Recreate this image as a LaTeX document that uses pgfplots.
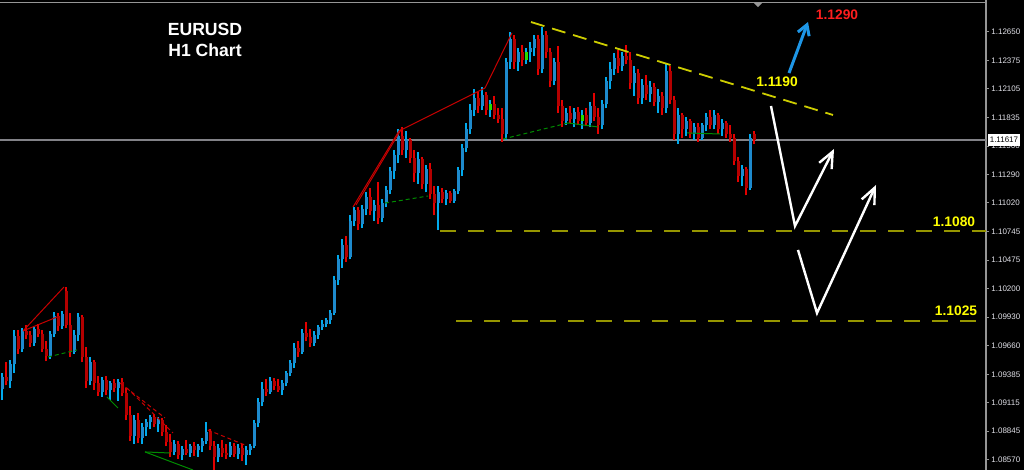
\documentclass[border=0pt]{standalone}
\usepackage{pgfplots}
\pgfplotsset{compat=1.18}
\usepackage{pgfplotstable}
\usepackage{fontspec}
\setmainfont{Liberation Sans}
\usetikzlibrary{arrows.meta}

\definecolor{upbody}{RGB}{30,138,205}
\definecolor{upwick}{RGB}{0,170,238}
\definecolor{dnbody}{RGB}{180,0,0}
\definecolor{dnwick}{RGB}{228,0,0}
\definecolor{frame}{RGB}{150,150,150}
\definecolor{pline}{RGB}{130,130,135}
\definecolor{trendy}{RGB}{205,205,0}
\definecolor{levely}{RGB}{150,150,0}
\definecolor{labely}{RGB}{255,255,0}
\definecolor{labelr}{RGB}{255,30,30}
\definecolor{arrowb}{RGB}{30,150,230}
\definecolor{zzred}{RGB}{200,0,0}
\definecolor{zzgreen}{RGB}{0,140,0}
\definecolor{tickt}{RGB}{225,225,232}
\definecolor{gbody}{RGB}{40,220,0}

\pgfplotstableread{
x o h l c
2 1.0925 1.0940 1.0914 1.0936
10 1.0932 1.0952 1.0926 1.0948
14 1.0948 1.0981 1.0940 1.0975
22 1.0963 1.0983 1.0960 1.0980
34 1.0968 1.0984 1.0966 1.0982
50 1.0956 1.0980 1.0953 1.0977
54 1.0977 1.0998 1.0974 1.0994
62 1.0985 1.0999 1.0982 1.0996
74 1.0960 1.0981 1.0958 1.0976
78 1.0976 1.0997 1.0970 1.0993
90 1.0932 1.0955 1.0928 1.0950
102 1.0922 1.0936 1.0917 1.0933
110 1.0924 1.0932 1.0914 1.0930
118 1.0926 1.0934 1.0913 1.0931
134 1.0880 1.0900 1.0872 1.0895
142 1.0878 1.0892 1.0872 1.0888
146 1.0888 1.0896 1.0880 1.0893
150 1.0893 1.0900 1.0886 1.0898
158 1.0891 1.0898 1.0884 1.0895
174 1.0865 1.0876 1.0862 1.0872
182 1.0862 1.0870 1.0857 1.0867
190 1.0864 1.0872 1.0860 1.0870
198 1.0866 1.0872 1.0860 1.0870
202 1.0870 1.0878 1.0865 1.0875
206 1.0875 1.0893 1.0872 1.0884
218 1.0860 1.0872 1.0855 1.0868
230 1.0862 1.0874 1.0860 1.0870
238 1.0863 1.0872 1.0858 1.0868
246 1.0862 1.0870 1.0852 1.0866
250 1.0866 1.0872 1.0862 1.0870
254 1.0870 1.0895 1.0868 1.0892
258 1.0892 1.0916 1.0888 1.0912
262 1.0912 1.0931 1.0908 1.0925
270 1.0922 1.0936 1.0920 1.0932
282 1.0924 1.0933 1.0919 1.0930
286 1.0930 1.0942 1.0927 1.0940
290 1.0940 1.0952 1.0937 1.0949
294 1.0949 1.0968 1.0945 1.0964
302 1.0960 1.0982 1.0958 1.0978
314 1.0968 1.0980 1.0966 1.0976
318 1.0976 1.0986 1.0972 1.0984
322 1.0984 1.0990 1.0981 1.0987
326 1.0987 1.0992 1.0984 1.0990
330 1.0990 1.1000 1.0987 1.0997
334 1.0997 1.1032 1.0995 1.1028
338 1.1028 1.1052 1.1024 1.1048
342 1.1048 1.1068 1.1040 1.1062
350 1.1050 1.1090 1.1048 1.1085
354 1.1085 1.1098 1.1080 1.1095
362 1.1082 1.1100 1.1078 1.1096
366 1.1096 1.1112 1.1090 1.1108
374 1.1094 1.1105 1.1085 1.1100
382 1.1088 1.1106 1.1084 1.1102
386 1.1102 1.1118 1.1098 1.1114
390 1.1114 1.1136 1.1110 1.1132
394 1.1132 1.1152 1.1125 1.1148
398 1.1148 1.1172 1.1140 1.1166
406 1.1152 1.1170 1.1145 1.1162
418 1.1130 1.1150 1.1120 1.1144
426 1.1120 1.1138 1.1112 1.1134
438 1.1102 1.1118 1.1076 1.1112
446 1.1106 1.1114 1.1100 1.1111
454 1.1104 1.1115 1.1102 1.1113
458 1.1113 1.1136 1.1110 1.1133
462 1.1133 1.1158 1.1128 1.1154
466 1.1154 1.1178 1.1150 1.1172
470 1.1172 1.1196 1.1168 1.1190
474 1.1190 1.1210 1.1185 1.1202
482 1.1194 1.1212 1.1190 1.1205
490 1.1190 1.1200 1.1184 1.1196
506 1.1168 1.1240 1.1162 1.1236
510 1.1236 1.1265 1.1230 1.1258
518 1.1236 1.1250 1.1228 1.1246
526 1.1238 1.1250 1.1234 1.1246
530 1.1246 1.1255 1.1236 1.1250
534 1.1250 1.1262 1.1242 1.1258
542 1.1230 1.1270 1.1226 1.1262
554 1.1218 1.1240 1.1214 1.1236
566 1.1180 1.1192 1.1176 1.1188
574 1.1182 1.1192 1.1174 1.1189
582 1.1180 1.1190 1.1172 1.1186
590 1.1178 1.1198 1.1174 1.1194
602 1.1176 1.1200 1.1172 1.1196
606 1.1196 1.1222 1.1192 1.1218
610 1.1218 1.1236 1.1210 1.1230
614 1.1230 1.1245 1.1224 1.1240
622 1.1232 1.1246 1.1228 1.1242
634 1.1216 1.1232 1.1204 1.1226
642 1.1202 1.1220 1.1196 1.1214
650 1.1206 1.1218 1.1198 1.1212
658 1.1198 1.1210 1.1188 1.1204
666 1.1192 1.1234 1.1188 1.1228
678 1.1168 1.1192 1.1158 1.1186
686 1.1172 1.1184 1.1166 1.1180
694 1.1168 1.1178 1.1162 1.1174
702 1.1164 1.1178 1.1162 1.1176
706 1.1176 1.1188 1.1170 1.1184
714 1.1176 1.1190 1.1172 1.1186
722 1.1172 1.1182 1.1166 1.1178
742 1.1128 1.1138 1.1118 1.1134
750 1.1116 1.1168 1.1114 1.1164
}\upbars

\pgfplotstableread{
x o h l c
6 1.0936 1.0950 1.0928 1.0932
18 1.0975 1.0981 1.0958 1.0963
26 1.0980 1.0986 1.0972 1.0976
30 1.0976 1.0980 1.0965 1.0968
38 1.0982 1.0987 1.0974 1.0977
42 1.0977 1.0981 1.0960 1.0963
46 1.0963 1.0970 1.0951 1.0956
58 1.0994 1.0997 1.0980 1.0985
66 1.1018 1.1022 1.0983 1.0986
70 1.0986 1.0997 1.0955 1.0960
82 1.0993 1.0995 1.0950 1.0955
86 1.0955 1.0965 1.0926 1.0932
94 1.0950 1.0952 1.0924 1.0930
98 1.0930 1.0937 1.0918 1.0922
106 1.0933 1.0937 1.0919 1.0924
114 1.0930 1.0934 1.0922 1.0926
122 1.0931 1.0935 1.0918 1.0921
126 1.0921 1.0926 1.0895 1.0900
130 1.0900 1.0908 1.0875 1.0880
138 1.0895 1.0902 1.0873 1.0878
154 1.0898 1.0901 1.0888 1.0891
162 1.0895 1.0897 1.0880 1.0884
166 1.0884 1.0890 1.0870 1.0874
170 1.0874 1.0882 1.0860 1.0865
178 1.0872 1.0875 1.0858 1.0862
186 1.0867 1.0876 1.0862 1.0864
194 1.0870 1.0874 1.0861 1.0866
210 1.0884 1.0886 1.0866 1.0870
214 1.0870 1.0875 1.0847 1.0860
222 1.0868 1.0876 1.0860 1.0864
226 1.0864 1.0872 1.0858 1.0862
234 1.0870 1.0873 1.0860 1.0863
242 1.0868 1.0872 1.0856 1.0862
266 1.0925 1.0934 1.0918 1.0922
274 1.0932 1.0935 1.0924 1.0927
278 1.0927 1.0934 1.0922 1.0924
298 1.0964 1.0970 1.0955 1.0960
306 1.0978 1.0988 1.0970 1.0974
310 1.0974 1.0982 1.0965 1.0968
346 1.1062 1.1070 1.1046 1.1050
358 1.1095 1.1098 1.1076 1.1082
370 1.1108 1.1116 1.1090 1.1094
378 1.1100 1.1122 1.1082 1.1088
402 1.1166 1.1174 1.1148 1.1152
410 1.1162 1.1164 1.1140 1.1145
414 1.1145 1.1152 1.1122 1.1130
422 1.1144 1.1146 1.1115 1.1120
430 1.1134 1.1140 1.1106 1.1110
434 1.1110 1.1118 1.1090 1.1102
442 1.1112 1.1116 1.1102 1.1106
450 1.1111 1.1113 1.1102 1.1104
478 1.1202 1.1208 1.1188 1.1194
486 1.1205 1.1208 1.1186 1.1190
494 1.1196 1.1204 1.1182 1.1186
498 1.1186 1.1192 1.1178 1.1182
502 1.1182 1.1192 1.1160 1.1168
514 1.1258 1.1262 1.1230 1.1236
522 1.1246 1.1252 1.1232 1.1238
538 1.1258 1.1262 1.1224 1.1230
546 1.1262 1.1266 1.1240 1.1246
550 1.1246 1.1250 1.1212 1.1218
558 1.1236 1.1251 1.1188 1.1194
562 1.1194 1.1200 1.1174 1.1180
570 1.1188 1.1194 1.1178 1.1182
578 1.1189 1.1193 1.1176 1.1180
586 1.1186 1.1192 1.1175 1.1178
594 1.1194 1.1207 1.1180 1.1184
598 1.1184 1.1192 1.1168 1.1176
618 1.1240 1.1248 1.1226 1.1232
626 1.1242 1.1252 1.1234 1.1238
630 1.1238 1.1246 1.1210 1.1216
638 1.1226 1.1230 1.1196 1.1202
646 1.1214 1.1224 1.1200 1.1206
654 1.1212 1.1216 1.1194 1.1198
662 1.1204 1.1208 1.1186 1.1192
670 1.1228 1.1232 1.1196 1.1200
674 1.1200 1.1204 1.1162 1.1168
682 1.1186 1.1188 1.1164 1.1172
690 1.1180 1.1182 1.1164 1.1168
698 1.1174 1.1178 1.1160 1.1164
710 1.1184 1.1190 1.1172 1.1176
718 1.1186 1.1188 1.1168 1.1172
726 1.1178 1.1180 1.1164 1.1168
730 1.1168 1.1176 1.1160 1.1164
734 1.1164 1.1168 1.1138 1.1142
738 1.1142 1.1146 1.1122 1.1128
746 1.1134 1.1136 1.1109 1.1116
754 1.1168 1.1170 1.1158 1.1162
}\downbars

\pgfplotstableread{
x lo hi
490 1.1190 1.1196
526 1.1238 1.1246
582 1.1180 1.1186
}\greenbars

\pgfplotsset{
  candle/.style 2 args={draw=none, mark=none, forget plot,
    error bars/.cd, y dir=plus, y explicit, error mark=none,
    error bar style={draw=#1, line width=#2, solid}},
}

\begin{document}
\begin{tikzpicture}
\useasboundingbox (0,0) rectangle (512pt,235pt);
\fill[black] (0,0) rectangle (512pt,235pt);
\begin{axis}[
  at={(0,0)}, anchor=south west,
  width=493pt, height=235pt, scale only axis,
  xmin=0, xmax=986, ymin=1.08474, ymax=1.12953,
  axis x line=none,
  axis y line*=right,
  y axis line style={draw=frame, line width=0.7pt, -},
  ytick={1.08570,1.08845,1.09115,1.09385,1.09660,1.09930,1.10200,1.10475,1.10745,1.11020,1.11290,1.11560,1.11835,1.12105,1.12375,1.12650},
  yticklabels={1.08570,1.08845,1.09115,1.09385,1.09660,1.09930,1.10200,1.10475,1.10745,1.11020,1.11290,1.11560,1.11835,1.12105,1.12375,1.12650},
  tick align=outside, major tick length=1.5pt,
  ytick style={draw=frame, line width=0.5pt},
  yticklabel style={font=\fontsize{4.0}{4.6}\selectfont, text=tickt, inner sep=0pt, xshift=1pt},
]
% current price line
\addplot[pline, line width=0.8pt] coordinates {(0,1.11617) (986,1.11617)};
\coordinate (cp) at (axis cs:986,1.11617);
% top frame line
\addplot[frame, line width=0.8pt] coordinates {(0,1.12929) (986,1.12929)};
\addplot[fill=frame, draw=none] coordinates {(754,1.12924) (762,1.12924) (758,1.12886)} -- cycle;

% candles: wicks
\addplot[candle={upwick}{0.55pt}] table[x=x, y=l, y error expr=\thisrow{h}-\thisrow{l}] {\upbars};
\addplot[candle={dnwick}{0.55pt}] table[x=x, y=l, y error expr=\thisrow{h}-\thisrow{l}] {\downbars};
% candles: bodies
\addplot[candle={upbody}{1.5pt}] table[x=x, y=o, y error expr=\thisrow{c}-\thisrow{o}] {\upbars};
\addplot[candle={dnbody}{1.5pt}] table[x=x, y=c, y error expr=\thisrow{o}-\thisrow{c}] {\downbars};
\addplot[candle={gbody}{1.5pt}] table[x=x, y=lo, y error expr=\thisrow{hi}-\thisrow{lo}] {\greenbars};

% zigzag lines
\addplot[zzred, line width=0.5pt] coordinates {(23,1.09799) (64,1.10218)};
\addplot[zzred, line width=0.5pt] coordinates {(23,1.09799) (57,1.09932)};
\addplot[zzred, line width=0.5pt, dash pattern=on 2pt off 1.5pt] coordinates {(120,1.09303) (165,1.08970)};
\addplot[zzred, line width=0.5pt, dash pattern=on 2pt off 1.5pt] coordinates {(127,1.09255) (173,1.08827)};
\addplot[zzred, line width=0.5pt, dash pattern=on 2pt off 1.5pt] coordinates {(208,1.08855) (245,1.08712)};
\addplot[zzgreen, line width=0.5pt] coordinates {(145,1.08646) (170,1.08636)};
\addplot[zzgreen, line width=0.5pt] coordinates {(145,1.08646) (193,1.08474)};
\addplot[zzgreen, line width=0.5pt] coordinates {(107,1.09170) (118,1.09065)};
\addplot[zzgreen, line width=0.5pt, dash pattern=on 2pt off 1.5pt] coordinates {(48,1.09551) (77,1.09618)};
\addplot[zzgreen, line width=0.5pt, dash pattern=on 2pt off 1.5pt] coordinates {(385,1.11018) (428,1.11085)};
\addplot[zzgreen, line width=0.5pt, dash pattern=on 2pt off 1.5pt] coordinates {(503,1.11628) (568,1.11781)};
\addplot[zzgreen, line width=0.5pt] coordinates {(568,1.11781) (598,1.11743)};
\addplot[zzgreen, line width=0.5pt] coordinates {(687,1.11686) (720,1.11676)};
\addplot[zzred, line width=0.5pt] coordinates {(353,1.10980) (399,1.11705) (485,1.12114) (512,1.12639)};
\addplot[zzred, line width=0.5pt] coordinates {(356,1.10999) (402,1.11733)};

% trend line and levels
\addplot[trendy, line width=0.9pt, dash pattern=on 7pt off 4pt] coordinates {(531,1.12743) (833,1.11857)};
\addplot[levely, line width=0.8pt, dash pattern=on 8pt off 6pt] coordinates {(440,1.10752) (986,1.10752)};
\addplot[levely, line width=0.8pt, dash pattern=on 8pt off 6pt] coordinates {(456,1.09894) (986,1.09894)};

% arrows
\addplot[arrowb, line width=1.5pt, -{Straight Barb[length=5pt,width=6pt]}] coordinates {(789,1.12257) (808,1.12743)};
\addplot[white, line width=1.2pt, -{Straight Barb[length=8pt,width=7pt]}] coordinates {(771,1.11943) (795,1.10799) (834,1.11533)};
\addplot[white, line width=1.2pt, -{Straight Barb[length=8pt,width=7pt]}] coordinates {(798,1.10571) (817,1.09970) (876,1.11190)};

% texts
\node[anchor=base, text=white, font=\bfseries\fontsize{8.8}{10}\selectfont] at (axis cs:205,1.12619) {EURUSD};
\node[anchor=base, text=white, font=\bfseries\fontsize{8.8}{10}\selectfont] at (axis cs:205,1.12410) {H1 Chart};
\node[anchor=base, text=labelr, font=\bfseries\fontsize{6.9}{8}\selectfont] at (axis cs:837,1.12767) {1.1290};
\node[anchor=base, text=labely, font=\bfseries\fontsize{6.9}{8}\selectfont] at (axis cs:777,1.12124) {1.1190};
\node[anchor=base, text=labely, font=\bfseries\fontsize{6.9}{8}\selectfont] at (axis cs:954,1.10790) {1.1080};
\node[anchor=base, text=labely, font=\bfseries\fontsize{6.9}{8}\selectfont] at (axis cs:956,1.09942) {1.1025};
\end{axis}
\node[anchor=west, fill=white, text=black, inner xsep=1.1pt, inner ysep=0pt, minimum height=6pt,
  font=\fontsize{4.0}{4.6}\selectfont] at ([xshift=0.6pt]cp) {1.11617};
\end{tikzpicture}
\end{document}
